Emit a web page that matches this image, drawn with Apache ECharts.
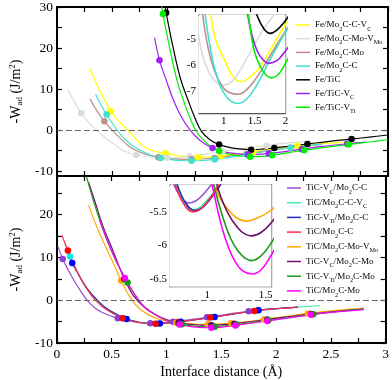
<!DOCTYPE html>
<html><head><meta charset="utf-8">
<script src="https://cdn.jsdelivr.net/npm/echarts@6/dist/echarts.min.js"></script>
<style>html,body{margin:0;padding:0;background:#fff}#c{width:392px;height:380px}</style>
</head><body><div id="c"></div>
<script>
// ---------- tick labels ----------
const xMainLabels = [0, 0.5, 1, 1.5, 2, 2.5, 3];
const xMainTicks = [0, 0.25, 0.5, 0.75, 1, 1.25, 1.5, 1.75, 2, 2.25, 2.5, 2.75, 3];
const yTopLabels = [-10, 0, 10, 20, 30];
const yTopTicks = [-10, -5, 0, 5, 10, 15, 20, 25, 30];
const yBotLabels = [-10, 0, 10, 20];
const yBotTicks = [-10, -5, 0, 5, 10, 15, 20, 25];
const xInsTopLabels = [1, 1.5, 2];
const xInsTopTicks = [0.75, 1, 1.25, 1.5, 1.75, 2];
const yInsTopLabels = [-7, -6, -5];
const yInsTopTicks = [-7.5, -7, -6.5, -6, -5.5, -5, -4.5];
const xInsBotLabels = [1, 1.5];
const xInsBotTicks = [0.75, 1, 1.25, 1.5];
const yInsBotLabels = [-6.5, -6, -5.5];
const yInsBotTicks = [-6.5, -6.25, -6, -5.75, -5.5, -5.25];

// ---------- top panel data (distance, -Wad) ----------
const feMo2CCVcLine = [[0.30,14.9],[0.40,9.0],[0.49,4.6],[0.56,2.2],[0.645,0],[0.70,-1.7],[0.75,-3.1],[0.8,-4.2],[0.85,-4.85],[0.9,-5.25],[0.97,-5.6],[1.05,-6.0],[1.12,-6.35],[1.2,-6.57],[1.27,-6.65],[1.35,-6.6],[1.45,-6.42],[1.59,-6.07],[1.75,-5.45],[1.91,-4.78],[2.1,-4.1],[2.3,-3.55],[2.6,-2.95]];
const feMo2CCVcPts = [[0.49,4.6],[0.985,-5.65],[1.28,-6.65],[1.49,-6.33],[1.78,-5.32],[2.18,-3.85]];
const feMo2CMoVMoLine = [[0.10,9.8],[0.16,6.8],[0.22,4.1],[0.29,1.8],[0.36,0],[0.43,-1.7],[0.5,-3.1],[0.56,-4.3],[0.62,-5.23],[0.7,-5.95],[0.8,-6.45],[0.9,-6.7],[1.0,-6.78],[1.1,-6.7],[1.2,-6.45],[1.35,-5.85],[1.5,-5.2],[1.65,-4.6],[1.81,-4.07],[2.0,-3.45],[2.2,-2.9],[2.3,-2.7]];
const feMo2CMoVMoPts = [[0.22,4.1],[0.72,-6.05],[1.0,-6.78],[1.2,-6.45],[1.5,-5.2],[1.9,-3.8]];
const feMo2CMoLine = [[0.30,7.6],[0.36,4.8],[0.43,2.15],[0.5,0],[0.57,-1.9],[0.65,-3.9],[0.72,-5.0],[0.8,-5.85],[0.9,-6.5],[1.0,-6.9],[1.1,-7.08],[1.22,-7.14],[1.35,-7.0],[1.5,-6.6],[1.65,-6.05],[1.8,-5.45],[2.0,-4.7],[2.2,-4.05],[2.4,-3.5]];
const feMo2CMoPts = [[0.43,2.15],[0.92,-6.6],[1.22,-7.14],[1.43,-6.8],[1.72,-5.8],[2.12,-4.3]];
const feMo2CCLine = [[0.35,8.8],[0.4,6.1],[0.45,3.8],[0.54,0.2],[0.62,-2.3],[0.7,-4.07],[0.78,-5.3],[0.86,-6.2],[0.95,-6.85],[1.05,-7.25],[1.13,-7.42],[1.22,-7.49],[1.32,-7.42],[1.45,-7.1],[1.6,-6.5],[1.75,-5.8],[1.9,-5.15],[2.05,-4.55],[2.2,-4.05],[2.4,-3.5]];
const feMo2CCPts = [[0.45,3.8],[0.94,-6.8],[1.22,-7.49],[1.43,-7.15],[1.72,-5.95],[2.12,-4.3]];
const feTiCLine = [[0.975,31],[0.99,28.6],[1.05,20.5],[1.12,12.5],[1.19,7.2],[1.25,3.0],[1.31,-0.3],[1.39,-2.4],[1.47,-3.5],[1.55,-4.15],[1.65,-4.6],[1.75,-4.78],[1.85,-4.67],[1.97,-4.38],[2.1,-3.95],[2.27,-3.4],[2.45,-2.8],[2.67,-2.2],[2.85,-1.65],[3.0,-1.2]];
const feTiCPts = [[0.99,28.6],[1.47,-3.5],[1.76,-4.78],[1.97,-4.38],[2.27,-3.4],[2.67,-2.2]];
const feTiCVcLine = [[0.885,22.5],[0.93,17],[0.985,12.6],[1.046,8.0],[1.12,3.6],[1.2,0.2],[1.3,-2.6],[1.41,-4.35],[1.5,-5.2],[1.6,-5.7],[1.73,-5.94],[1.85,-5.85],[1.92,-5.7],[2.05,-5.3],[2.22,-4.65],[2.4,-4.0],[2.63,-3.35],[2.8,-2.95]];
const feTiCVcPts = [[0.93,17],[1.41,-4.35],[1.73,-5.94],[1.92,-5.7],[2.22,-4.65],[2.63,-3.35]];
const feTiCVTiLine = [[0.945,31],[0.96,28.3],[1.03,19],[1.09,12],[1.147,7.2],[1.21,2.7],[1.27,-0.6],[1.35,-3.0],[1.43,-4.6],[1.5,-5.5],[1.6,-6.1],[1.68,-6.38],[1.77,-6.5],[1.87,-6.4],[1.95,-6.15],[2.1,-5.5],[2.24,-4.9],[2.45,-4.15],[2.64,-3.55],[2.85,-2.85],[3.0,-2.3]];
const feTiCVTiPts = [[0.96,28.3],[1.47,-5.1],[1.75,-6.48],[1.95,-6.15],[2.24,-4.9],[2.64,-3.55]];

// ---------- bottom panel data ----------
const tiCVcMo2CCLine = [[0.01,12.5],[0.053,9.6],[0.1,7.2],[0.15,4.9],[0.21,2.4],[0.275,0],[0.35,-1.9],[0.45,-3.3],[0.556,-4.2],[0.65,-4.8],[0.72,-5.12],[0.78,-5.3],[0.84,-5.37],[0.9,-5.34],[0.96,-5.25],[1.06,-5.03],[1.2,-4.6],[1.37,-4.0],[1.55,-3.3],[1.75,-2.6],[2.0,-2.0],[2.2,-1.6]];
const tiCVcMo2CCPts = [[0.053,9.6],[0.556,-4.2],[0.852,-5.37],[1.06,-5.03],[1.37,-4.0],[1.75,-2.6]];
const tiCMo2CCVcLine = [[0.07,13.5],[0.12,10.2],[0.18,6.8],[0.26,3.2],[0.36,0],[0.45,-2.1],[0.615,-4.25],[0.7,-4.9],[0.78,-5.3],[0.88,-5.47],[0.96,-5.4],[1.12,-5.05],[1.27,-4.55],[1.42,-3.95],[1.6,-3.25],[1.82,-2.45],[2.0,-2.0],[2.2,-1.6],[2.4,-1.3]];
const tiCMo2CCVcPts = [[0.12,10.2],[0.615,-4.25],[0.92,-5.45],[1.12,-5.05],[1.42,-3.95],[1.82,-2.45]];
const tiCVTiMo2CCLine = [[0.1,11],[0.14,8.7],[0.2,5.9],[0.28,2.6],[0.37,0],[0.47,-2.2],[0.636,-4.4],[0.72,-4.97],[0.8,-5.33],[0.89,-5.48],[0.97,-5.42],[1.13,-5.05],[1.3,-4.45],[1.44,-3.9],[1.62,-3.2],[1.84,-2.35],[2.0,-1.95],[2.2,-1.6]];
const tiCVTiMo2CCPts = [[0.14,8.7],[0.636,-4.4],[0.94,-5.45],[1.13,-5.05],[1.44,-3.9],[1.84,-2.35]];
const tiCMo2CCLine = [[0.045,15.2],[0.1,11.6],[0.15,8.6],[0.22,4.9],[0.29,2.0],[0.35,0],[0.45,-2.2],[0.6,-4.2],[0.7,-4.95],[0.78,-5.33],[0.88,-5.5],[0.96,-5.43],[1.1,-5.1],[1.25,-4.6],[1.4,-4.05],[1.6,-3.25],[1.8,-2.5],[2.0,-2.0],[2.2,-1.6]];
const tiCMo2CCPts = [[0.1,11.6],[0.6,-4.2],[0.9,-5.5],[1.1,-5.1],[1.4,-4.05],[1.8,-2.5]];
const tiCMo2CMoVMoLine = [[0.29,22.2],[0.35,18],[0.42,13.8],[0.5,9.5],[0.586,4.6],[0.67,0.6],[0.75,-1.9],[0.85,-3.6],[0.95,-4.55],[1.03,-5.0],[1.1,-5.27],[1.17,-5.45],[1.25,-5.59],[1.33,-5.64],[1.42,-5.6],[1.55,-5.47],[1.65,-5.25],[1.78,-4.88],[1.89,-4.5],[2.1,-3.75],[2.29,-3.1],[2.55,-2.4],[2.8,-1.85]];
const tiCMo2CMoVMoPts = [[0.586,4.6],[1.09,-5.25],[1.38,-5.62],[1.59,-5.38],[1.89,-4.5],[2.29,-3.1]];
const tiCVcMo2CMoLine = [[0.29,27.5],[0.35,22.8],[0.42,17.3],[0.5,12.3],[0.615,5.0],[0.7,1.0],[0.8,-1.7],[0.9,-3.4],[1.0,-4.5],[1.1,-5.2],[1.18,-5.53],[1.26,-5.74],[1.32,-5.83],[1.38,-5.86],[1.46,-5.81],[1.55,-5.66],[1.64,-5.42],[1.78,-4.98],[1.92,-4.5],[2.1,-3.9],[2.32,-3.2],[2.55,-2.6],[2.8,-2.1]];
const tiCVcMo2CMoPts = [[0.615,5.0],[1.11,-5.25],[1.41,-5.85],[1.62,-5.48],[1.92,-4.5],[2.32,-3.2]];
const tiCVTiMo2CMoLine = [[0.27,28.9],[0.33,23.5],[0.4,18],[0.47,13.3],[0.55,8.6],[0.645,4.1],[0.73,0.6],[0.8,-1.6],[0.9,-3.4],[1.0,-4.65],[1.07,-5.2],[1.14,-5.62],[1.2,-5.9],[1.26,-6.08],[1.32,-6.19],[1.38,-6.23],[1.46,-6.16],[1.55,-5.96],[1.64,-5.68],[1.78,-5.22],[1.93,-4.7],[2.1,-4.1],[2.34,-3.3],[2.55,-2.7],[2.8,-2.1]];
const tiCVTiMo2CMoPts = [[0.645,4.1],[1.14,-5.62],[1.44,-6.18],[1.64,-5.68],[1.93,-4.7],[2.34,-3.3]];
const tiCMo2CMoLine = [[0.39,18.7],[0.45,14.5],[0.5,11.5],[0.56,8.2],[0.62,5.2],[0.67,3.0],[0.72,1.0],[0.8,-1.6],[0.9,-3.4],[1.0,-4.75],[1.06,-5.25],[1.12,-5.7],[1.18,-6.03],[1.24,-6.25],[1.3,-6.38],[1.38,-6.43],[1.46,-6.37],[1.55,-6.14],[1.63,-5.9],[1.75,-5.45],[1.92,-4.85],[2.1,-4.2],[2.32,-3.4],[2.55,-2.75],[2.8,-2.2]];
const tiCMo2CMoPts = [[0.62,5.2],[1.12,-5.7],[1.41,-6.42],[1.63,-5.9],[1.92,-4.85],[2.32,-3.4]];

// ---------- legend names ----------
const topNames = ['Fe/Mo2C-C-VC','Fe/Mo2C-Mo-VMo','Fe/Mo2C-Mo','Fe/Mo2C-C','Fe/TiC','Fe/TiC-VC','Fe/TiC-VTi'];
const topLabels = ['Fe/Mo{s|2}C-C-V{s|C}','Fe/Mo{s|2}C-Mo-V{s|Mo}','Fe/Mo{s|2}C-Mo','Fe/Mo{s|2}C-C','Fe/TiC','Fe/TiC-V{s|C}','Fe/TiC-V{s|Ti}'];
const botNames = ['TiC-VC/Mo2C-C','TiC/Mo2C-C-VC','TiC-VTi/Mo2C-C','TiC/Mo2C-C','TiC/Mo2C-Mo-VMo','TiC-VC/Mo2C-Mo','TiC-VTi/Mo2C-Mo','TiC/Mo2C-Mo'];
const botLabels = ['TiC-V{s|C}/Mo{s|2}C-C','TiC/Mo{s|2}C-C-V{s|C}','TiC-V{s|Ti}/Mo{s|2}C-C','TiC/Mo{s|2}C-C','TiC/Mo{s|2}C-Mo-V{s|Mo}','TiC-V{s|C}/Mo{s|2}C-Mo','TiC-V{s|Ti}/Mo{s|2}C-Mo','TiC/Mo{s|2}C-Mo'];

const topLines = [feMo2CCVcLine, feMo2CMoVMoLine, feMo2CMoLine, feMo2CCLine, feTiCLine, feTiCVcLine, feTiCVTiLine];
const topPts = [feMo2CCVcPts, feMo2CMoVMoPts, feMo2CMoPts, feMo2CCPts, feTiCPts, feTiCVcPts, feTiCVTiPts];
const botLines = [tiCVcMo2CCLine, tiCMo2CCVcLine, tiCVTiMo2CCLine, tiCMo2CCLine, tiCMo2CMoVMoLine, tiCVcMo2CMoLine, tiCVTiMo2CMoLine, tiCMo2CMoLine];
const botPts = [tiCVcMo2CCPts, tiCMo2CCVcPts, tiCVTiMo2CCPts, tiCMo2CCPts, tiCMo2CMoVMoPts, tiCVcMo2CMoPts, tiCVTiMo2CMoPts, tiCMo2CMoPts];

// ---------- styles ----------
const topColors = ['#ffff00','#dcdcdc','#bc8f8f','#40e0d0','#000000','#a020f0','#00ee00'];
const botColors = ['#9b4fd0','#40f0b0','#2a2ab0','#ff2a50','#ffaa00','#70106a','#1a9a1a','#ff00ff'];
const botDotColors = ['#8a3fd0','#00e8e8','#0000ff','#ff0000','#ffa500','#660066','#119911','#ff00ff'];

const SERIF = 'Liberation Serif';
const richSub = {
  s: {fontFamily: SERIF, fontSize: 6.3, verticalAlign: 'bottom', lineHeight: 7, color: '#000'}
};

const chart = echarts.init(document.getElementById('c'), null, {renderer: 'canvas'});

function axisBase(extra) {
  return Object.assign({
    type: 'value', splitLine: {show: false},
    axisLine: {show: true, onZero: false, lineStyle: {color: '#000', width: 2}},
    axisTick: {show: true, inside: true, length: 5, lineStyle: {color: '#000', width: 1.2}},
    axisLabel: {show: false}
  }, extra);
}
const mainLabel = {show: true, fontFamily: SERIF, fontSize: 13.5, color: '#000', margin: 4};
const insLabel = {show: true, fontFamily: SERIF, fontSize: 11, color: '#000', margin: 3};
const insLine = {show: true, onZero: false, lineStyle: {color: '#555', width: 1.3}};
const insTick = (vals) => ({show: true, inside: true, length: 3, customValues: vals, lineStyle: {color: '#555', width: 1}});
const mainTick = (vals) => ({show: true, inside: true, length: 5, customValues: vals, lineStyle: {color: '#000', width: 1.2}});

const xAxis = [
  axisBase({gridIndex: 0, min: 0, max: 3, position: 'bottom', axisTick: mainTick(xMainTicks)}),
  axisBase({gridIndex: 1, min: 0, max: 3, position: 'bottom', axisTick: mainTick(xMainTicks),
    axisLabel: Object.assign({customValues: xMainLabels, formatter: v => String(v)}, mainLabel),
    name: 'Interface distance (Å)', nameLocation: 'middle', nameGap: 22,
    nameTextStyle: {fontFamily: SERIF, fontSize: 14, color: '#000'}}),
  axisBase({gridIndex: 2, min: 0.6, max: 2, position: 'bottom', axisLine: insLine, axisTick: insTick(xInsTopTicks),
    axisLabel: Object.assign({customValues: xInsTopLabels, formatter: v => String(v)}, insLabel)}),
  axisBase({gridIndex: 3, min: 0.68, max: 1.55, position: 'bottom', axisLine: insLine, axisTick: insTick(xInsBotTicks),
    axisLabel: Object.assign({customValues: xInsBotLabels, formatter: v => String(v)}, insLabel)}),
  axisBase({gridIndex: 0, min: 0, max: 3, position: 'top', axisTick: mainTick(xMainTicks)}),
  axisBase({gridIndex: 1, min: 0, max: 3, position: 'top', axisTick: mainTick(xMainTicks)}),
  axisBase({gridIndex: 2, min: 0.6, max: 2, position: 'top', axisLine: insLine, axisTick: {show: false}}),
  axisBase({gridIndex: 3, min: 0.68, max: 1.55, position: 'top', axisLine: insLine, axisTick: {show: false}})
];
const yName = '-W{s|ad} (J/m{p|2})';
const yNameStyle = {fontFamily: SERIF, fontSize: 14, color: '#000', lineHeight: 16,
  rich: {s: {fontFamily: SERIF, fontSize: 9, verticalAlign: 'bottom', lineHeight: 8, color: '#000'},
         p: {fontFamily: SERIF, fontSize: 9, verticalAlign: 'top', lineHeight: 8, color: '#000'}}};
const yAxis = [
  axisBase({gridIndex: 0, min: -11.2, max: 30, position: 'left', axisTick: mainTick(yTopTicks),
    axisLabel: Object.assign({customValues: yTopLabels, formatter: v => String(v)}, mainLabel),
    name: yName, nameLocation: 'middle', nameGap: 30, nameRotate: 90, nameTextStyle: yNameStyle}),
  axisBase({gridIndex: 1, min: -10, max: 29, position: 'left', axisTick: mainTick(yBotTicks),
    axisLabel: Object.assign({customValues: yBotLabels, formatter: v => String(v)}, mainLabel),
    name: yName, nameLocation: 'middle', nameGap: 30, nameRotate: 90, nameTextStyle: yNameStyle}),
  axisBase({gridIndex: 2, min: -7.86, max: -4.07, position: 'left', axisLine: insLine, axisTick: insTick(yInsTopTicks),
    axisLabel: Object.assign({customValues: yInsTopLabels, formatter: v => String(v)}, insLabel)}),
  axisBase({gridIndex: 3, min: -6.62, max: -5.1, position: 'left', axisLine: insLine, axisTick: insTick(yInsBotTicks),
    axisLabel: Object.assign({customValues: yInsBotLabels, formatter: v => String(v)}, insLabel)}),
  axisBase({gridIndex: 0, min: -11.2, max: 30, position: 'right', axisTick: mainTick(yTopTicks)}),
  axisBase({gridIndex: 1, min: -10, max: 29, position: 'right', axisTick: mainTick(yBotTicks)}),
  axisBase({gridIndex: 2, min: -7.86, max: -4.07, position: 'right', axisLine: insLine, axisTick: {show: false}}),
  axisBase({gridIndex: 3, min: -6.62, max: -5.1, position: 'right', axisLine: insLine, axisTick: {show: false}})
];

const series = [];
const zeroLine = {silent: true, symbol: 'none', label: {show: false},
  lineStyle: {color: '#666', type: [6, 3], width: 1.2}, data: [{yAxis: 0}]};

function addGroup(names, lines, pts, colors, dotColors, mainIdx, insIdx) {
  names.forEach((n, i) => {
    series.push({type: 'line', name: n, xAxisIndex: mainIdx, yAxisIndex: mainIdx, data: lines[i],
      smooth: 0.4, showSymbol: false, symbol: 'none', color: colors[i],
      lineStyle: {color: colors[i], width: 1.2}, z: 2,
      markLine: i === 0 ? zeroLine : undefined});
    series.push({type: 'scatter', name: n + ' pts', xAxisIndex: mainIdx, yAxisIndex: mainIdx, data: pts[i],
      symbolSize: 6.5, itemStyle: {color: dotColors[i], opacity: 1}, z: 3});
    series.push({type: 'line', name: n, xAxisIndex: insIdx, yAxisIndex: insIdx, data: lines[i],
      smooth: 0.4, showSymbol: false, symbol: 'none', color: colors[i],
      lineStyle: {color: colors[i], width: 1.6}, z: 4});
  });
}
addGroup(topNames, topLines, topPts, topColors, topColors, 0, 2);
addGroup(botNames, botLines, botPts, botColors, botDotColors, 1, 3);

const legends = [];
function addLegends(names, labels, left, y0, dy) {
  names.forEach((n, i) => {
    const lab = labels[i];
    legends.push({data: [n], left: left, top: y0 + dy * i - 7, padding: 0, orient: 'vertical',
      icon: 'rect', itemWidth: 14, itemHeight: 1.5, itemGap: 0, selectedMode: false,
      formatter: () => lab,
      textStyle: {fontFamily: SERIF, fontSize: 9.1, color: '#000', lineHeight: 14, rich: richSub}});
  });
}
addLegends(topNames, topLabels, 296, 25, 13.7);
addLegends(botNames, botLabels, 287, 188, 14.7);

chart.setOption({
  animation: false,
  backgroundColor: '#fff',
  grid: [
    {left: 49, top: 6, width: 339, height: 170},
    {left: 49, top: 176, width: 339, height: 168},
    {left: 199, top: 15, width: 86.5, height: 98, show: true, backgroundColor: '#fff', borderWidth: 0, z: 3},
    {left: 170, top: 185, width: 101.5, height: 101.7, show: true, backgroundColor: '#fff', borderWidth: 0, z: 3}
  ],
  xAxis: xAxis,
  yAxis: yAxis,
  legend: legends,
  series: series
});
</script>
</body></html>
